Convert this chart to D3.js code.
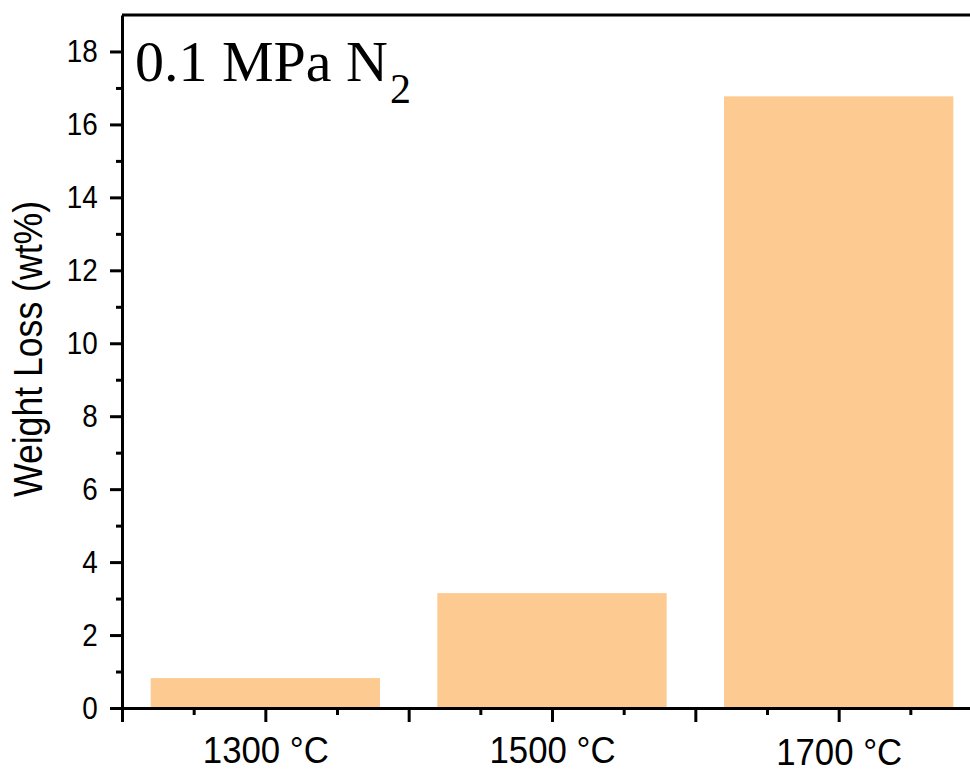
<!DOCTYPE html>
<meta charset="utf-8">
<script src="https://cdn.jsdelivr.net/npm/d3@7"></script>
<style>
body { margin: 0; background: #fff; }
.axis path, .axis line { stroke: #000; stroke-width: 3px; }
.axis text { fill: #000; font-family: Arial, "Liberation Sans", sans-serif; }
</style>
<body>
<script>

// data
var temps = [1300, 1500, 1700];
var tempLabels = ["1300 °C", "1500 °C", "1700 °C"];
var weightLoss = [0.82, 3.15, 16.77];
var yTicks = [0, 2, 4, 6, 8, 10, 12, 14, 16, 18];

var width = 970,
    height = 773;

var plotLeft = 122, plotTop = 15, plotBottom = 708, plotRight = 982;

var svg = d3.select("body").append("svg")
    .attr("width", width)
    .attr("height", height);

var x = d3.scaleLinear().domain([1200, 1800]).range([plotLeft, plotRight]);
var y = d3.scaleLinear().domain([0, 19]).range([plotBottom, plotTop]);

var barHalf = 80; // bar width in temperature units is 160

// bars
svg.append("g")
  .selectAll("rect")
  .data(temps)
  .enter().append("rect")
    .attr("x", function(d) { return x(d - barHalf); })
    .attr("width", function(d) { return x(d + barHalf) - x(d - barHalf); })
    .attr("y", function(d, i) { return y(weightLoss[i]); })
    .attr("height", function(d, i) { return y(0) - y(weightLoss[i]); })
    .style("fill", "#fdcb92");

// top border
svg.append("line")
    .attr("x1", plotLeft).attr("x2", width)
    .attr("y1", plotTop).attr("y2", plotTop)
    .style("stroke", "#000")
    .style("stroke-width", 3);

// y axis, minor ticks first
var yMinor = d3.range(1, 19, 2);
svg.append("g")
    .attr("class", "axis")
    .attr("transform", "translate(" + plotLeft + ",0)")
    .call(d3.axisLeft(y).tickValues(yMinor).tickSize(6).tickFormat(""))
    .call(function(g) { g.select(".domain").remove(); });

svg.append("g")
    .attr("class", "axis")
    .attr("transform", "translate(" + plotLeft + ",0)")
    .call(d3.axisLeft(y).tickValues(yTicks).tickSizeInner(12).tickSizeOuter(0).tickPadding(16))
    .call(function(g) {
      // the original font is a bit narrower than Liberation Sans
      g.selectAll("text").style("font-size", "32px").attr("transform", "scale(0.87,1)");
    });

// x axis
var xMajor = d3.range(1200, 1900, 100);
var xMinor = d3.range(1250, 1850, 100);
svg.append("g")
    .attr("class", "axis")
    .attr("transform", "translate(0," + plotBottom + ")")
    .call(d3.axisBottom(x).tickValues(xMinor).tickSize(7).tickFormat(""))
    .call(function(g) { g.select(".domain").remove(); });

svg.append("g")
    .attr("class", "axis")
    .attr("transform", "translate(0," + plotBottom + ")")
    .call(d3.axisBottom(x).tickValues(xMajor).tickSizeInner(14).tickSizeOuter(0).tickPadding(15)
      .tickFormat(function(d) {
        var i = temps.indexOf(d);
        return i < 0 ? "" : tempLabels[i];
      }))
    .call(function(g) {
      g.selectAll("text").style("font-size", "37px").attr("transform", "scale(0.94,1)");
      g.selectAll(".tick").filter(function(d) { return d == 1700; })
        .select("text").attr("y", 31);
    });

// y axis title
svg.append("text")
    .attr("transform", "translate(42,349) rotate(-90) scale(0.89,1)")
    .attr("text-anchor", "middle")
    .style("font-family", "Arial, 'Liberation Sans', sans-serif")
    .style("font-size", "40px")
    .text("Weight Loss (wt%)");

// title
var title = svg.append("text")
    .attr("x", 135)
    .attr("y", 81)
    .style("font-family", "'Times New Roman', 'Liberation Serif', serif")
    .style("font-size", "58px");
title.append("tspan").text("0.1 MPa N");
title.append("tspan").attr("dx", 2).attr("dy", 22).style("font-size", "42px").text("2");

</script>
</body>
</html>
